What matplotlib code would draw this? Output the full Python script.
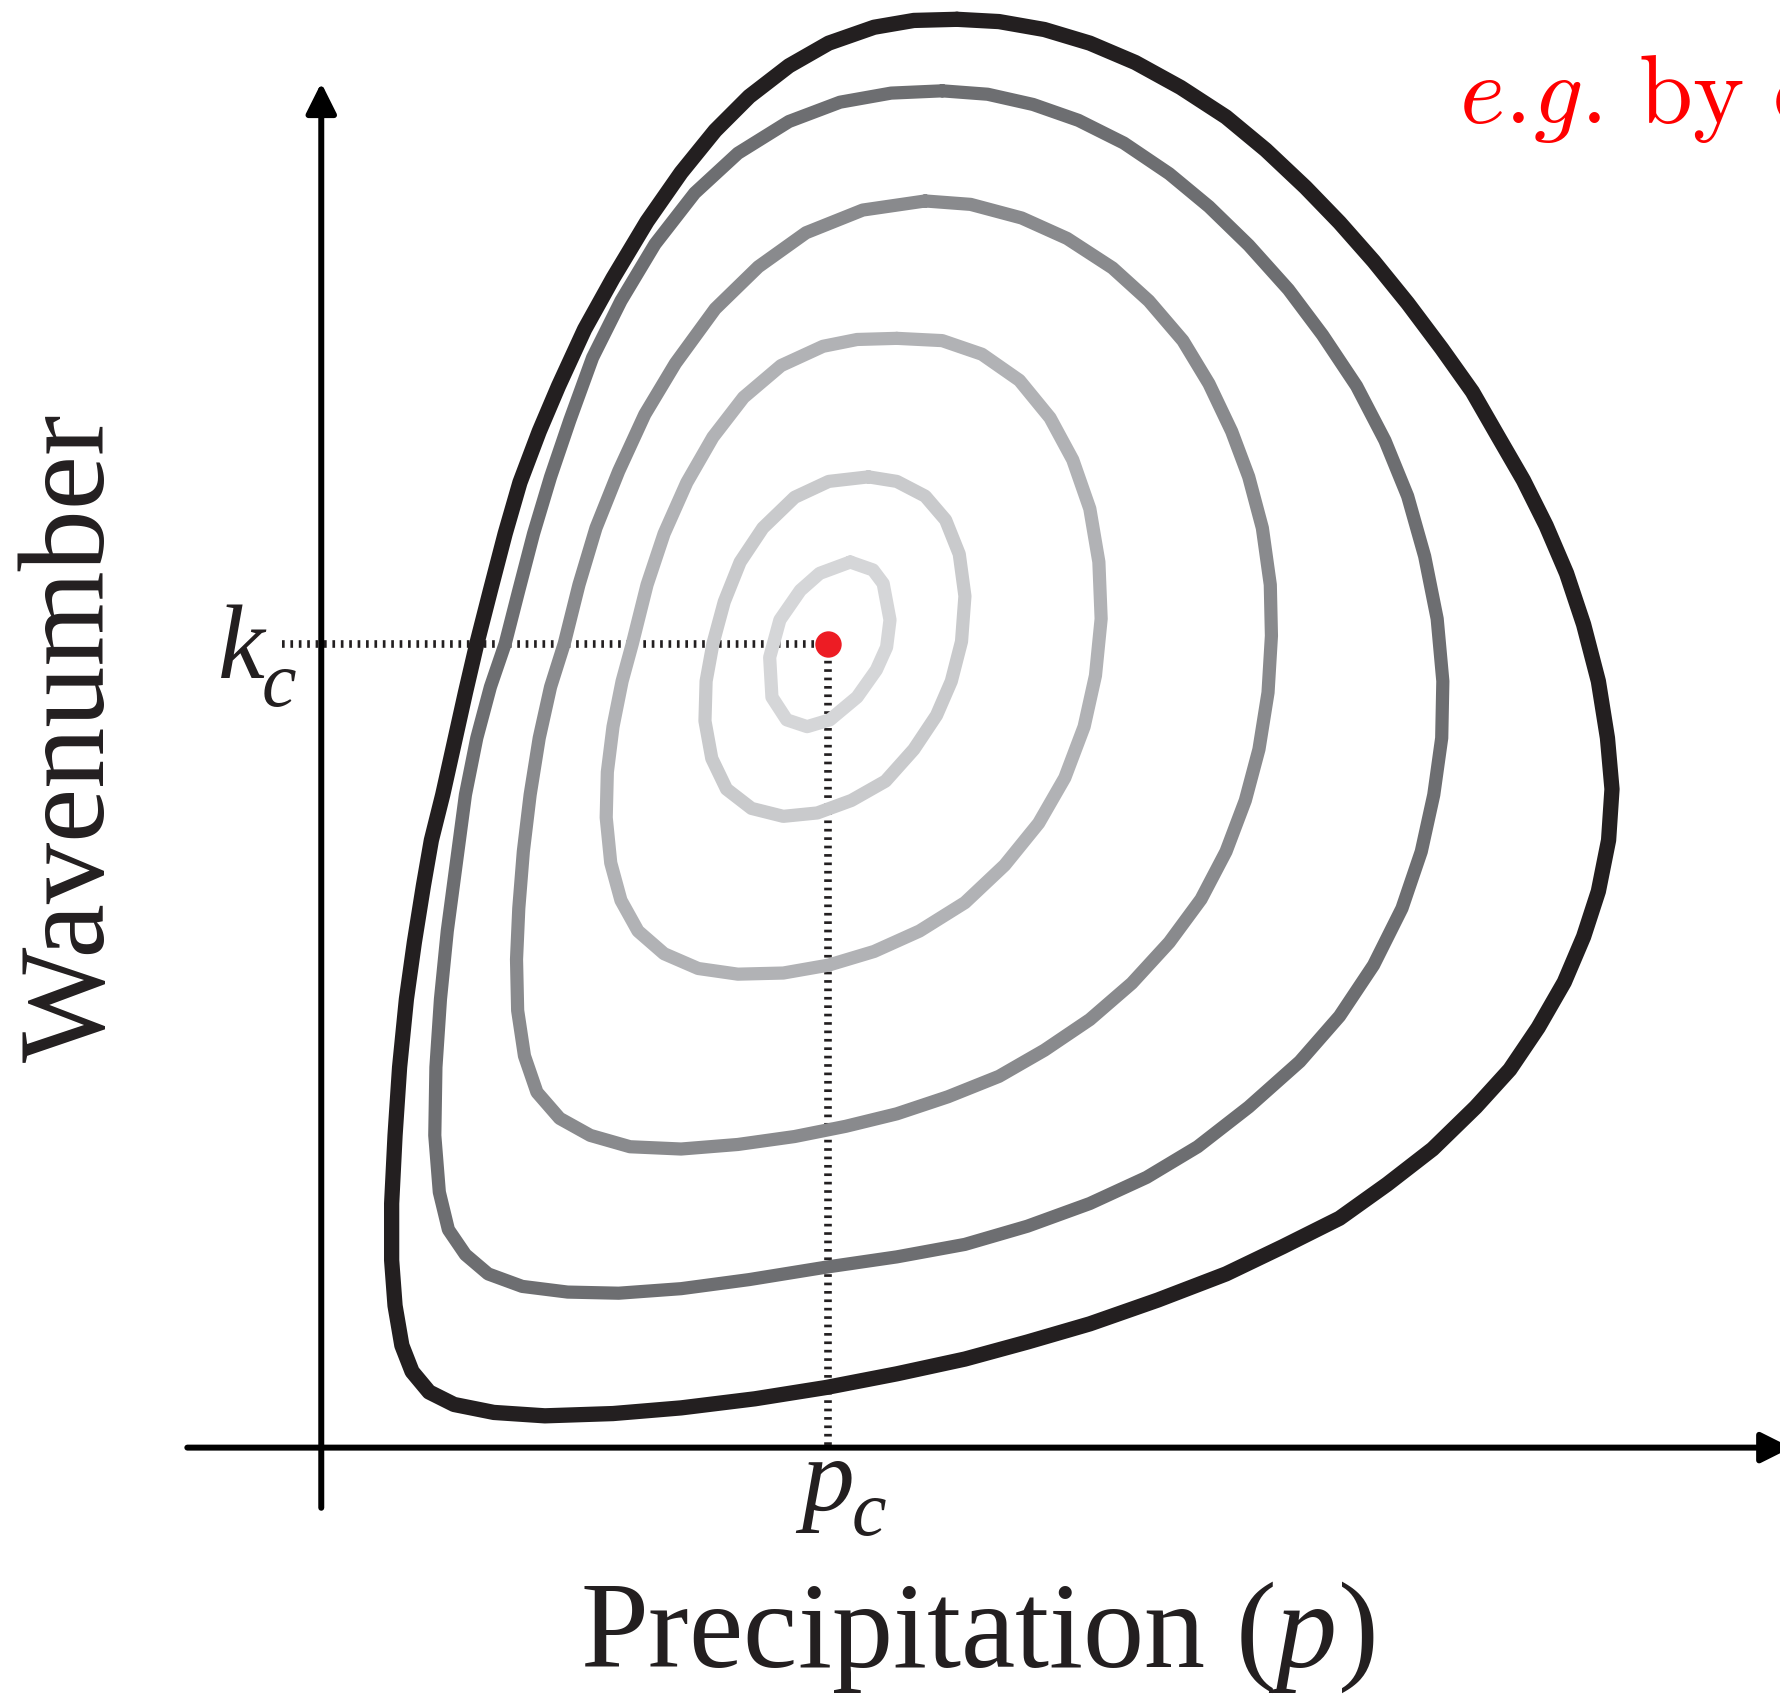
import numpy as np
import matplotlib.pyplot as plt

plt.rcParams['mathtext.fontset'] = 'custom'
plt.rcParams['mathtext.rm'] = 'Liberation Serif'
plt.rcParams['mathtext.it'] = 'Liberation Serif:italic'

# contornos trazados a mano (coordenadas del esquema, y hacia abajo)
c1_x = [843, 880, 920, 960, 1000, 1040, 1080, 1115, 1150, 1180, 1210, 1240, 1270, 1297,
        1320, 1342, 1362, 1380, 1395, 1408, 1416, 1420, 1417, 1408, 1395, 1378, 1355, 1330,
        1300, 1262, 1222, 1180, 1130, 1080, 1020, 960, 905, 850, 790, 728, 665, 600,
        540, 480, 435, 400, 378, 363, 354, 348, 345, 345, 348, 352, 358, 365, 373,
        380, 390, 400, 410, 420, 432, 445, 458, 475, 492, 515, 540, 570, 600, 630,
        660, 695, 730, 770, 805, 843]
c1_y = [17, 19, 26, 38, 55, 77, 103, 132, 165, 196, 230, 267, 307, 345,
        385, 423, 463, 505, 550, 600, 650, 695, 740, 785, 825, 865, 905, 942,
        975, 1012, 1043, 1073, 1098, 1122, 1145, 1166, 1182, 1197, 1210, 1222, 1232, 1240,
        1245, 1247, 1244, 1237, 1226, 1208, 1185, 1150, 1110, 1060, 1000, 940, 880, 830, 780,
        740, 700, 655, 610, 567, 520, 470, 425, 380, 340, 290, 245, 195, 152, 115,
        85, 58, 38, 24, 18, 17]

c2_x = [830, 870, 910, 950, 990, 1030, 1065, 1100, 1135, 1165, 1195, 1220, 1240, 1255,
        1266, 1271, 1270, 1263, 1252, 1235, 1210, 1180, 1145, 1100, 1055, 1010, 960, 905,
        850, 790, 728, 660, 600, 545, 500, 460, 430, 410, 395, 387, 383, 384, 388,
        394, 402, 410, 420, 432, 445, 457, 470, 485, 502, 522, 547, 577, 612, 650,
        695, 740, 785, 830]
c2_y = [80, 83, 92, 106, 126, 153, 182, 216, 255, 295, 340, 388, 437, 490,
        545, 600, 650, 700, 750, 800, 850, 895, 935, 975, 1010, 1037, 1060, 1080,
        1096, 1107, 1116, 1127, 1135, 1139, 1138, 1133, 1122, 1105, 1083, 1050, 1000, 940, 880,
        820, 760, 700, 650, 605, 567, 520, 470, 420, 370, 315, 265, 215, 170, 135,
        107, 90, 82, 80]

c3_x = [815, 855, 900, 940, 980, 1012, 1042, 1065, 1085, 1100, 1112, 1119, 1120, 1117,
        1109, 1097, 1080, 1058, 1030, 997, 960, 920, 880, 835, 790, 745, 700, 650,
        600, 555, 520, 493, 473, 462, 456, 455, 457, 461, 467, 475, 485, 497, 510,
        525, 545, 568, 595, 630, 668, 710, 760, 815]
c3_y = [177, 180, 192, 210, 236, 265, 300, 338, 380, 420, 465, 515, 560, 610,
        660, 705, 750, 792, 830, 866, 898, 925, 948, 966, 981, 992, 1001, 1008,
        1012, 1010, 1000, 985, 962, 930, 890, 845, 800, 750, 700, 650, 605, 567, 515,
        465, 415, 365, 320, 272, 235, 205, 185, 177]

c4_x = [790, 830, 865, 898, 925, 945, 960, 968, 970, 965, 955, 938, 915, 885,
        850, 810, 770, 730, 690, 650, 615, 585, 562, 547, 538, 534, 535, 540,
        548, 557, 570, 585, 605, 628, 655, 688, 725, 755, 790]
c4_y = [298, 300, 312, 335, 368, 405, 448, 495, 545, 595, 640, 685, 725, 762,
        795, 820, 838, 850, 857, 858, 853, 840, 820, 793, 760, 720, 680, 640,
        600, 567, 515, 470, 425, 385, 350, 322, 305, 299, 298]

c5_x = [765, 790, 815, 833, 845, 850, 847, 838, 825, 805, 780, 750, 720, 690,
        662, 640, 627, 621, 622, 628, 638, 652, 672, 700, 730, 765]
c5_y = [420, 424, 437, 458, 488, 525, 565, 600, 630, 660, 688, 705, 716, 719,
        712, 695, 668, 635, 600, 567, 530, 495, 465, 438, 424, 420]

c6_x = [749, 769, 778, 784, 781, 772, 755, 731, 711, 693, 680, 678, 687, 705, 722, 749]
c6_y = [495, 502, 514, 546, 570, 590, 614, 634, 640, 634, 614, 579, 546, 520, 505, 495]

contornos = [(c1_x, c1_y), (c2_x, c2_y), (c3_x, c3_y), (c4_x, c4_y), (c5_x, c5_y), (c6_x, c6_y)]
colores = ['#231f20', '#6d6e71', '#898a8d', '#b1b2b5', '#c9cacc', '#d5d6d8']
anchos = [11, 9.5, 9.5, 9.5, 9.5, 9.5]

# punto critico
p_c = 729
k_c = 567

fig = plt.figure(figsize=(17.8, 16.94), dpi=100)
ax = fig.add_axes([0, 0, 1, 1])
ax.set_xlim(0, 1568)
ax.set_ylim(1492, 0)
ax.axis('off')

# lineas punteadas (debajo de los contornos)
ax.plot([248, p_c], [k_c, k_c], color='#231f20', lw=5.5, ls=(0, (0.35, 0.75)),
        dash_capstyle='butt', zorder=1)
ax.plot([p_c, p_c], [k_c, 1275], color='#231f20', lw=5.5, ls=(0, (0.35, 0.75)),
        dash_capstyle='butt', zorder=1)

for (cx, cy), col, lw in zip(contornos, colores, anchos):
    ax.plot(cx, cy, color=col, lw=lw, solid_joinstyle='round', solid_capstyle='round', zorder=2)

ax.plot([p_c], [k_c], 'o', color='#ed1c24', ms=19, mec='none', zorder=3)

# ejes con flecha
ax.annotate('', xy=(283, 73), xytext=(283, 1328), annotation_clip=False,
            arrowprops=dict(arrowstyle='-|>', lw=4.3, color='black', mutation_scale=46,
                            shrinkA=0, shrinkB=0))
ax.annotate('', xy=(1578, 1275), xytext=(165, 1275), annotation_clip=False,
            arrowprops=dict(arrowstyle='-|>', lw=4.3, color='black', mutation_scale=46,
                            shrinkA=0, shrinkB=0))

fam = 'Liberation Serif'
ax.text(213, 597, 'k', fontsize=76, family=fam, style='italic', ha='center', va='baseline', color='#231f20')
ax.text(246, 622, 'c', fontsize=56, family=fam, style='italic', ha='center', va='baseline', color='#231f20')
ax.text(729, 1330, 'p', fontsize=76, family=fam, style='italic', ha='center', va='baseline', color='#231f20')
ax.text(765, 1352, 'c', fontsize=56, family=fam, style='italic', ha='center', va='baseline', color='#231f20')

ax.text(861, 1468, r'Precipitation ($p$)', fontsize=88, family=fam, ha='center', va='baseline',
        color='#231f20')
ax.text(65, 650, 'Wavenumber', fontsize=88, family=fam, rotation=90, ha='center', va='center',
        color='#231f20')

ax.text(1285, 108, r'$e.\!g.\!\ \mathrm{by\ climate\ change}$', fontsize=70, color='#ff0000',
        math_fontfamily='cm', ha='left', va='baseline')

fig.savefig('out.png', dpi=100)
